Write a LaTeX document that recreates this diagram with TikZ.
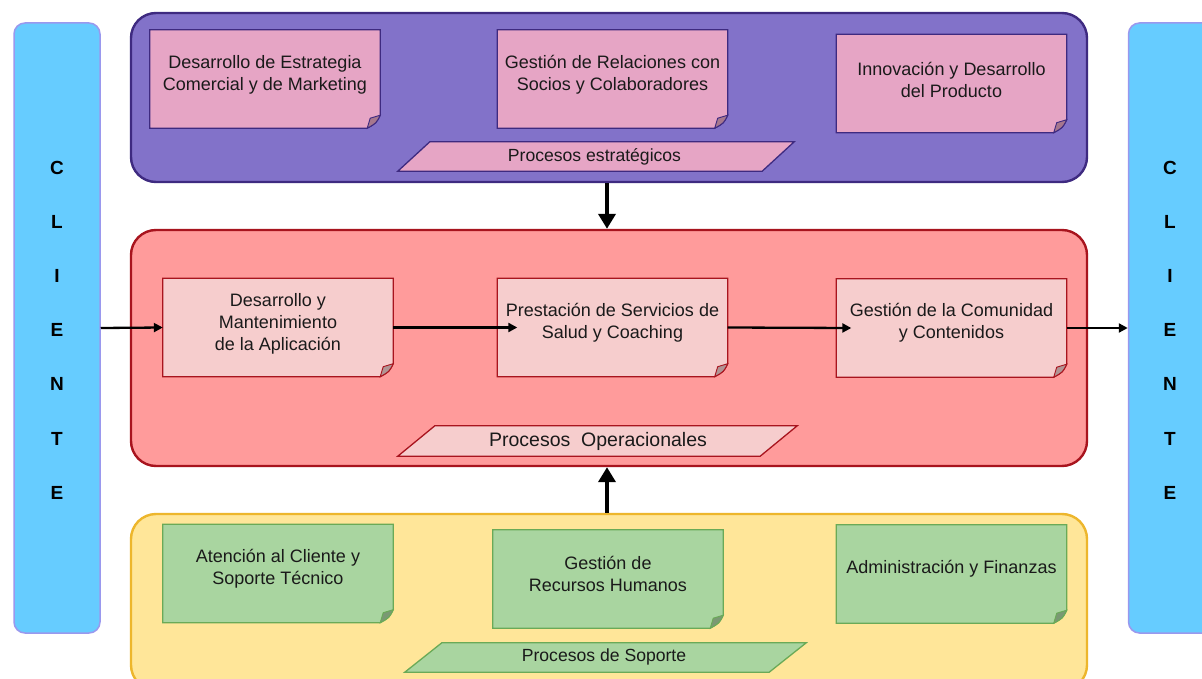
\documentclass[tikz,border=0pt]{standalone}
\usepackage{fontspec}
\setmainfont{Liberation Sans}
\usetikzlibrary{arrows.meta}

\definecolor{cliFill}{HTML}{66CCFF}
\definecolor{cliLine}{HTML}{9A98EE}
\definecolor{stPanel}{HTML}{8272C9}
\definecolor{stLine}{HTML}{3E2A80}
\definecolor{stBox}{HTML}{E6A5C5}
\definecolor{opPanel}{HTML}{FF9B9B}
\definecolor{opLine}{HTML}{A8141E}
\definecolor{opBox}{HTML}{F6CDCD}
\definecolor{suPanel}{HTML}{FFE699}
\definecolor{suLine}{HTML}{EDB62C}
\definecolor{suBox}{HTML}{A9D5A0}
\definecolor{suBoxLine}{HTML}{6AAA57}
\definecolor{txt}{HTML}{1A1A1A}

% folded-corner process box: name, centre, fill, border
\newcommand\notebox[4]{%
  \node[boxbase] (#1) at #2 {};
  \filldraw[fill=#3, draw=#4, line width=1.3pt]
    (#1.north west) -- (#1.north east) -- ([yshift=13pt]#1.south east)
    .. controls ([xshift=-4pt,yshift=5pt]#1.south east) .. ([xshift=-13pt]#1.south east)
    -- (#1.south west) -- cycle;
  \filldraw[fill=#3!72!black, draw=#4, line width=0.9pt]
    ([yshift=13pt]#1.south east) -- ([xshift=-10pt,yshift=10pt]#1.south east)
    -- ([xshift=-13pt]#1.south east)
    .. controls ([xshift=-4pt,yshift=5pt]#1.south east) .. ([yshift=13pt]#1.south east) -- cycle;
}

% slanted label band: name, centre, mid width, half slant, height, fill, border
\newcommand\procband[7]{%
  \node[minimum width=#3, minimum height=#5, inner sep=0pt] (#1) at #2 {};
  \filldraw[fill=#6, draw=#7, line width=1.3pt]
    ([xshift=-#4]#1.south west) -- ([xshift=#4]#1.north west)
    -- ([xshift=#4]#1.north east) -- ([xshift=-#4]#1.south east) -- cycle;
}

\tikzset{
  panel/.style={rounded corners=25pt, line width=2.4pt, minimum width=956pt, inner sep=0pt},
  clibar/.style={rounded corners=11pt, fill=cliFill, draw=cliLine, line width=1.5pt,
    minimum width=86pt, minimum height=610pt, inner sep=0pt},
  clitxt/.style={font=\fontsize{19}{54.2}\selectfont\bfseries, align=center, inner sep=0pt},
  boxbase/.style={minimum width=230pt, minimum height=98pt, inner sep=0pt},
  boxtxt/.style={font=\fontsize{18}{22}\selectfont, text=txt, align=center, inner sep=0pt},
  bandtxt/.style={font=\fontsize{17.6}{20}\selectfont, text=txt, inner sep=0pt},
  flow/.style={line width=2.3pt, -{Triangle[length=9pt,width=9pt]}},
  bigflow/.style={line width=4.5pt, -{Triangle[length=15pt,width=17pt]}},
}

\begin{document}
\begin{tikzpicture}[x=1pt, y=-1pt]
\useasboundingbox (0,0) rectangle (1202,679);
\fill[white] (0,0) rectangle (1202,679);

% customer bars
\node[clibar] (cliL) at (57,328) {};
\node[clibar] (cliR) at (1171.5,328) {};
\node[clitxt] (cliLt) at (57,330) {C\\L\\I\\E\\N\\T\\E};
\node[clitxt] (cliRt) at (1170,330) {C\\L\\I\\E\\N\\T\\E};

% process panels
\node[panel, fill=stPanel, draw=stLine, minimum height=169pt] (stP) at (609,97.5) {};
\node[panel, fill=opPanel, draw=opLine, minimum height=236pt] (opP) at (609,348) {};
\node[panel, fill=suPanel, draw=suLine, minimum height=176pt] (suP) at (609,602) {};

% strategic processes
\notebox{s1}{(265,79)}{stBox}{stLine}
\notebox{s2}{(612.5,79)}{stBox}{stLine}
\notebox{s3}{(951.5,83.5)}{stBox}{stLine}
\node[boxtxt] (s1t) at ([yshift=4pt]s1.center) {Desarrollo de Estrategia\\Comercial y de Marketing};
\node[boxtxt] (s2t) at ([yshift=4pt]s2.center) {Gestión de Relaciones con\\Socios y Colaboradores};
\node[boxtxt] (s3t) at ([yshift=4pt]s3.center) {Innovación y Desarrollo\\del Producto};
\procband{stB}{(596,156.5)}{364pt}{16pt}{29pt}{stBox}{stLine}
\node[bandtxt] (stBt) at (594.5,157) {Procesos estratégicos};

% operational processes
\notebox{o1}{(278,327.5)}{opBox}{opLine}
\notebox{o2}{(612.5,327.5)}{opBox}{opLine}
\notebox{o3}{(951.5,328)}{opBox}{opLine}
\node[boxtxt] (o1t) at ([yshift=4pt]o1.center) {Desarrollo y\\Mantenimiento\\de la Aplicación};
\node[boxtxt] (o2t) at ([yshift=5pt]o2.center) {Prestación de Servicios de\\Salud y Coaching};
\node[boxtxt] (o3t) at ([yshift=5pt]o3.center) {Gestión de la Comunidad\\y Contenidos};
\procband{opB}{(597.5,441)}{362pt}{18.5pt}{30pt}{opBox}{opLine}
\node[bandtxt, font=\fontsize{19.5}{22}\selectfont] (opBt) at (598,441) {Procesos\ \ Operacionales};

% support processes
\notebox{u1}{(278,573.5)}{suBox}{suBoxLine}
\notebox{u2}{(608,579)}{suBox}{suBoxLine}
\notebox{u3}{(951.5,574)}{suBox}{suBoxLine}
\node[boxtxt] (u1t) at ([yshift=5pt]u1.center) {Atención al Cliente y\\Soporte Técnico};
\node[boxtxt] (u2t) at ([yshift=5pt]u2.center) {Gestión de\\Recursos Humanos};
\node[boxtxt] (u3t) at ([yshift=5pt]u3.center) {Administración y Finanzas};
\procband{suB}{(605.5,657.5)}{364pt}{18.5pt}{29pt}{suBox}{suBoxLine}
\node[bandtxt] (suBt) at (604,657) {Procesos de Soporte};

% flows
\draw[flow] (cliL.east) -- (o1.west);
\draw[flow] (o1.east) -- ([xshift=20pt]o2.west);
\draw[flow] (o2.east) -- ([xshift=15pt]o3.west);
\draw[flow] (o3.east) -- (cliR.west);
\draw[bigflow] ([xshift=-2pt]stP.south) -- ([xshift=-2pt]opP.north);
\draw[bigflow] ([xshift=-2pt]suP.north) -- ([xshift=-2pt]opP.south);
\end{tikzpicture}
\end{document}
